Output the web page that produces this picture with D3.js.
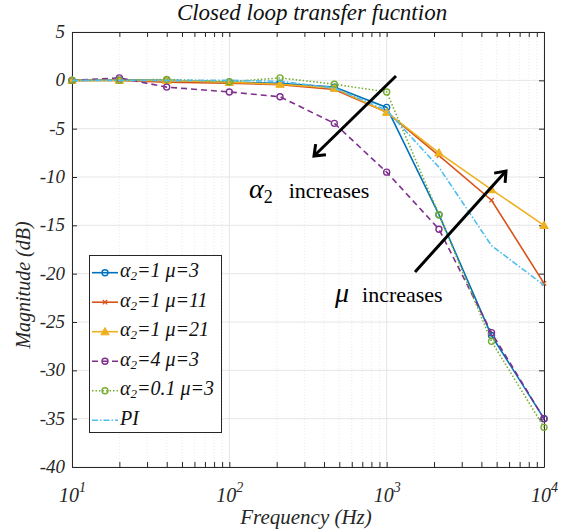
<html>
<head>
<script src="https://d3js.org/d3.v7.min.js"></script>
<style>
body { margin: 0; background: #fff; }
</style>
</head>
<body>
<svg id="chart" width="574" height="531"></svg>
<script>
// frequencies (Hz) of the sample points
var freq = [10, 20, 40, 100, 210, 465, 1000, 2150, 4640, 10000];

// magnitude (dB) for each curve
var a1mu3  = [0, 0.05, 0, -0.2, -0.3, -0.7, -2.8, -13.9, -26.4, -35.0];
var a1mu11 = [0, 0, -0.2, -0.3, -0.45, -0.95, -3.3, -7.8, -12.4, -21.0];
var a1mu21 = [0, 0, 0, -0.2, -0.4, -0.8, -3.3, -7.5, -11.3, -15.0];
var a4mu3  = [0, 0.25, -0.7, -1.2, -1.7, -4.45, -9.5, -15.4, -26.1, -35.0];
var a01mu3 = [0, 0, 0.1, -0.15, 0.25, -0.4, -1.2, -13.9, -27.0, -35.9];
var pi     = [0, 0, 0, 0, -0.1, -0.8, -3.1, -9.0, -17.1, -21.2];

var legendNames = [["1", "=1 ", "=3"], ["1", "=1 ", "=11"], ["1", "=1 ", "=21"],
                   ["4", "=4 ", "=3"], ["0.1", "=0.1 ", "=3"], ["PI"]];
var yTicks = [5, 0, -5, -10, -15, -20, -25, -30, -35, -40];
var xTicks = [10, 100, 1000, 10000];

var series = [
  {vals: a1mu3,  color: "#0072BD", dash: null,        marker: "o"},
  {vals: a1mu11, color: "#D95319", dash: null,        marker: "x"},
  {vals: a1mu21, color: "#EDB120", dash: null,        marker: "^"},
  {vals: a4mu3,  color: "#7E2F8E", dash: "6,4",       marker: "o"},
  {vals: a01mu3, color: "#77AC30", dash: "1.5,2",     marker: "o"},
  {vals: pi,     color: "#4DBEEE", dash: "6,2,1.5,2", marker: null}
];

var SERIF = "Liberation Serif";
var L = 72, R = 544, T = 32, B = 467;
var x = d3.scaleLog().domain([10, 10000]).range([L, R]);
var y = d3.scaleLinear().domain([-40, 5]).range([B, T]);

var svg = d3.select("#chart");

// grid
var minor = [];
for (var dec = 10; dec < 10000; dec *= 10)
  for (var k = 2; k <= 9; k++) minor.push(dec * k);

svg.append("g").selectAll("line").data(minor).enter().append("line")
  .attr("x1", d => x(d)).attr("x2", d => x(d)).attr("y1", T).attr("y2", B)
  .attr("stroke", "#dcdcdc").attr("stroke-width", 0.6).attr("stroke-dasharray", "1,2");
svg.append("g").selectAll("line").data(xTicks).enter().append("line")
  .attr("x1", d => x(d)).attr("x2", d => x(d)).attr("y1", T).attr("y2", B)
  .attr("stroke", "#e6e6e6").attr("stroke-width", 1);
svg.append("g").selectAll("line").data(yTicks).enter().append("line")
  .attr("x1", L).attr("x2", R).attr("y1", d => y(d)).attr("y2", d => y(d))
  .attr("stroke", "#e6e6e6").attr("stroke-width", 1);

// axes, ticks inside on all sides
var allX = xTicks.concat(minor);
function axisStyle(g) {
  g.select(".domain").attr("stroke", "#262626").attr("stroke-width", 1);
  g.selectAll(".tick line").attr("stroke", "#262626");
  g.selectAll(".tick text").remove();
}
svg.append("g").attr("transform", "translate(0," + B + ")")
  .call(d3.axisBottom(x).tickValues(allX).tickSize(-5).tickSizeOuter(0)).call(axisStyle);
svg.append("g").attr("transform", "translate(0," + T + ")")
  .call(d3.axisTop(x).tickValues(allX).tickSize(-5).tickSizeOuter(0)).call(axisStyle);
svg.append("g").attr("transform", "translate(" + L + ",0)")
  .call(d3.axisLeft(y).tickValues(yTicks).tickSize(-5).tickSizeOuter(0)).call(axisStyle);
svg.append("g").attr("transform", "translate(" + R + ",0)")
  .call(d3.axisRight(y).tickValues(yTicks).tickSize(-5).tickSizeOuter(0)).call(axisStyle);

// tick labels
svg.append("g").selectAll("text").data(yTicks).enter().append("text")
  .attr("x", L - 7).attr("y", d => y(d) + 6).attr("text-anchor", "end")
  .attr("font-size", 19).attr("font-style", "italic").attr("fill", "#262626")
  .text(d => d);
var xl = svg.append("g").selectAll("text").data(xTicks).enter().append("text")
  .attr("x", d => x(d) - 13).attr("y", 502)
  .attr("font-size", 20).attr("font-style", "italic").attr("fill", "#262626");
xl.append("tspan").text("10");
xl.append("tspan").attr("dy", -10).attr("font-size", 14).text(d => Math.round(Math.log10(d)));

// titles
svg.append("text").attr("x", 312).attr("y", 20).attr("text-anchor", "middle")
  .attr("font-size", 23).attr("font-style", "italic").attr("fill", "#111")
  .text("Closed loop transfer fucntion");
svg.append("text").attr("x", 306).attr("y", 524).attr("text-anchor", "middle")
  .attr("font-size", 21).attr("font-style", "italic").attr("fill", "#262626")
  .text("Frequency (Hz)");
svg.append("text").attr("transform", "translate(30,285) rotate(-90)").attr("text-anchor", "middle")
  .attr("font-size", 20).attr("font-style", "italic").attr("fill", "#262626")
  .text("Magnitude (dB)");

// markers
function drawMarker(g, type, cx, cy, color, s) {
  if (type === "o") {
    g.append("circle").attr("cx", cx).attr("cy", cy).attr("r", s)
      .attr("fill", "none").attr("stroke", color).attr("stroke-width", 1.4);
  } else if (type === "x") {
    g.append("path").attr("d", "M" + (cx - s) + "," + (cy - s) + "L" + (cx + s) + "," + (cy + s) +
      "M" + (cx - s) + "," + (cy + s) + "L" + (cx + s) + "," + (cy - s))
      .attr("stroke", color).attr("stroke-width", 1.2);
  } else if (type === "^") {
    var h = s * 1.4;
    g.append("path").attr("d", "M" + cx + "," + (cy - h) + "L" + (cx + h) + "," + (cy + h * 0.75) +
      "L" + (cx - h) + "," + (cy + h * 0.75) + "Z")
      .attr("fill", color).attr("stroke", color).attr("stroke-width", 1);
  }
}

var line = d3.line().x((d, i) => x(freq[i])).y(d => y(d));
series.forEach(function(s) {
  var g = svg.append("g");
  g.append("path").datum(s.vals).attr("d", line)
    .attr("fill", "none").attr("stroke", s.color).attr("stroke-width", 1.6)
    .attr("stroke-dasharray", s.dash);
  if (s.marker) s.vals.forEach(function(v, i) {
    drawMarker(g, s.marker, x(freq[i]), y(v), s.color, s.marker === "x" ? 2.2 : 3);
  });
});

// annotation arrows
function arrow(x1, y1, x2, y2) {
  var g = svg.append("g").attr("stroke", "#000").attr("stroke-width", 3).attr("fill", "none");
  g.append("line").attr("x1", x1).attr("y1", y1).attr("x2", x2).attr("y2", y2);
  var a = Math.atan2(y2 - y1, x2 - x1), len = 12, sp = 0.66;
  g.append("path").attr("stroke-linejoin", "miter")
    .attr("d", "M" + (x2 - len * Math.cos(a - sp)) + "," + (y2 - len * Math.sin(a - sp)) +
      "L" + x2 + "," + y2 +
      "L" + (x2 - len * Math.cos(a + sp)) + "," + (y2 - len * Math.sin(a + sp)));
}
arrow(396, 76, 314, 156);
arrow(415, 272, 506, 171);

var t1 = svg.append("text").attr("x", 249).attr("y", 198).attr("fill", "#000");
t1.append("tspan").attr("font-size", 28).attr("font-style", "italic").text("\u03b1");
t1.append("tspan").attr("font-size", 18).attr("dy", 5).text("2");
t1.append("tspan").attr("font-size", 22).attr("dy", -5).attr("dx", 16).text("increases");

var t2 = svg.append("text").attr("x", 335).attr("y", 302).attr("fill", "#000");
t2.append("tspan").attr("font-size", 28).attr("font-style", "italic").text("\u03bc");
t2.append("tspan").attr("font-size", 22).attr("dx", 13).text("increases");

// legend
var lg = svg.append("g");
lg.append("rect").attr("x", 89.5).attr("y", 255.5).attr("width", 132).attr("height", 177)
  .attr("fill", "#fff").attr("stroke", "#262626").attr("stroke-width", 1);
series.forEach(function(s, i) {
  var yy = 272.7 + i * 29.5;
  lg.append("line").attr("x1", 92).attr("x2", 118).attr("y1", yy).attr("y2", yy)
    .attr("stroke", s.color).attr("stroke-width", 1.6).attr("stroke-dasharray", s.dash);
  if (s.marker) drawMarker(lg, s.marker, 105, yy, s.color, s.marker === "x" ? 2.2 : 3);
  var n = legendNames[i];
  var t = lg.append("text").attr("x", 120).attr("y", yy + 4.5).attr("font-size", 20)
    .attr("font-style", "italic").attr("fill", "#111");
  if (n.length === 1) { t.text(n[0]); return; }
  t.append("tspan").text("\u03b1");
  t.append("tspan").attr("dy", 3).attr("font-size", 13).text("2");
  t.append("tspan").attr("dy", -3).text(n[1] + "\u03bc" + n[2]);
});

// every label in the serif face
svg.selectAll("text").attr("font-family", SERIF);
</script>
</body>
</html>
